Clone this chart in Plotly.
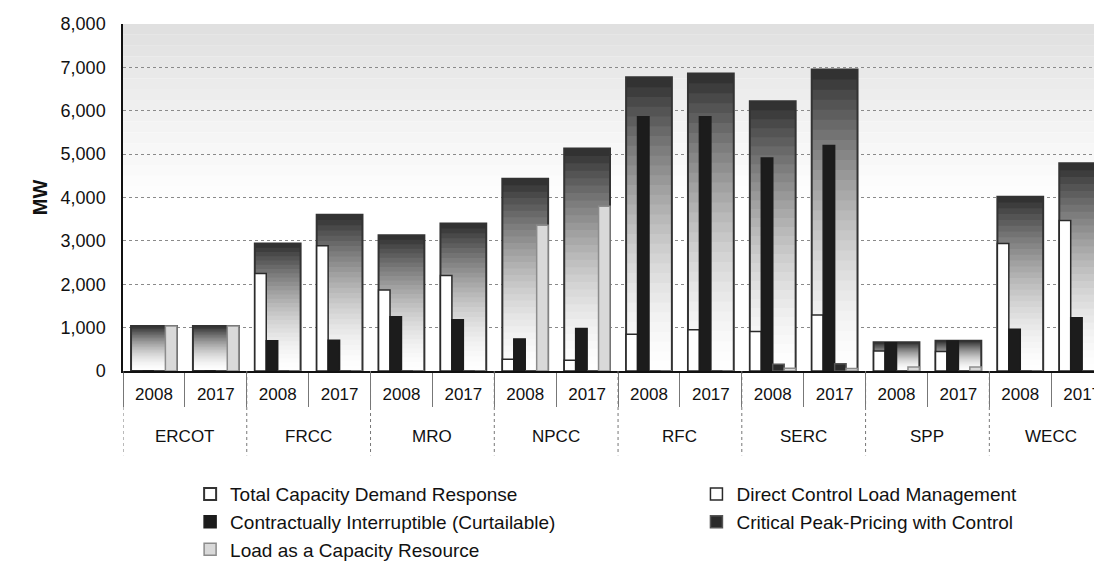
import plotly.graph_objects as go

regions = ["ERCOT", "FRCC", "MRO", "NPCC", "RFC", "SERC", "SPP", "WECC"]
years = ["2008", "2017"]

total_dr = [1040, 1040, 2940, 3600, 3130, 3400, 4430, 5130,
            6770, 6860, 6220, 6950, 660, 700, 4020, 4790]
direct_control = [0, 0, 2250, 2890, 1870, 2200, 270, 250,
                  850, 950, 910, 1290, 460, 450, 2940, 3470]
interruptible = [0, 0, 700, 710, 1250, 1180, 740, 980,
                 5860, 5860, 4910, 5200, 650, 690, 960, 1230]
critical_peak = [0, 0, 0, 0, 0, 0, 0, 0,
                 0, 0, 155, 165, 0, 0, 0, 0]
load_capacity = [1040, 1040, 0, 0, 0, 0, 3360, 3800,
                 0, 0, 65, 55, 90, 90, 0, 0]

series_names = ["Total Capacity Demand Response", "Direct Control Load Management",
                "Contractually Interruptible (Curtailable)", "Critical Peak-Pricing with Control",
                "Load as a Capacity Resource"]

year_labels = [y for _ in regions for y in years]
pos = list(range(len(year_labels)))
ny = len(years)

GROUP_W = 0.74
SUB_W = GROUP_W / 4
FONT = "Liberation Sans, Arial, sans-serif"

fig = go.Figure()

# plot-area background: grey at the top fading to white by the middle
NB = 16
for k in range(NB):
    y0 = 4000 + k * 4000 / NB
    y1 = y0 + 4000 / NB
    g = int(round(254 - 30 * ((k + 1) / NB) ** 1.2))
    fig.add_shape(type="rect", xref="paper", yref="y", x0=0, x1=1, y0=y0, y1=y1,
                  fillcolor=f"rgb({g},{g},{g})", line_width=0, layer="below")

# total bars drawn as nested overlays -> vertical gradient inside each bar
N = 30
for k in range(N):
    f = 1 - k / N
    g = int(round(255 - 205 * f ** 1.7))
    fig.add_trace(go.Bar(x=pos, y=[t * f for t in total_dr], width=GROUP_W,
                         marker=dict(color=f"rgb({g},{g},{g})", line_width=0),
                         showlegend=False, hoverinfo="skip"))

fig.add_trace(go.Bar(x=pos, y=total_dr, width=GROUP_W, name=series_names[0], legend="legend",
                     marker=dict(color="rgba(255,255,255,0)", line=dict(color="#333333", width=2))))

comp = [
    (series_names[1], direct_control, "#ffffff", "#2a2a2a", "legend2"),
    (series_names[2], interruptible, "#1c1c1c", "#1c1c1c", "legend"),
    (series_names[3], critical_peak, "#2b2b2b", "#555555", "legend2"),
    (series_names[4], load_capacity, "#d9d9d9", "#8c8c8c", "legend"),
]
for k, (nm, vals, fc, lc, lg) in enumerate(comp):
    fig.add_trace(go.Bar(x=pos, y=vals, width=SUB_W, offset=-GROUP_W / 2 + k * SUB_W,
                         name=nm, legend=lg,
                         marker=dict(color=fc, line=dict(color=lc, width=1.5))))

# region labels and region separators below the axis
for i, r in enumerate(regions):
    fig.add_annotation(x=i * ny + (ny - 1) / 2, y=-0.19, xref="x", yref="paper",
                       text=r, showarrow=False, yanchor="middle",
                       font=dict(size=17, family=FONT, color="#111111"))
for i in range(len(regions) + 1):
    xb = i * ny - 0.5
    fig.add_shape(type="line", xref="x", yref="paper", x0=xb, x1=xb, y0=0, y1=-0.243,
                  line=dict(color="#777777", width=1, dash="dot"))

leg_common = dict(orientation="v", yanchor="top", xanchor="left", traceorder="normal",
                  font=dict(size=19, family=FONT, color="#111111"),
                  bgcolor="rgba(0,0,0,0)", itemclick=False)

fig.update_layout(
    width=1102, height=571,
    barmode="overlay",
    paper_bgcolor="white", plot_bgcolor="white",
    margin=dict(l=115, r=0, t=16, b=208, autoexpand=False),
    font=dict(family=FONT, color="#111111"),
    legend=dict(x=0.068, y=-0.30, **leg_common),
    legend2=dict(x=0.581, y=-0.30, **leg_common),
)

fig.update_yaxes(range=[0, 8000], dtick=1000, tickformat=",d",
                 showgrid=True, gridcolor="#8a8a8a", griddash="dot", gridwidth=1,
                 showline=True, linecolor="#111111", linewidth=1.5,
                 ticks="", ticklabelstandoff=12, tickfont=dict(size=18),
                 zeroline=False,
                 title=dict(text="<b>MW</b>", font=dict(size=20), standoff=8))

fig.update_xaxes(range=[-0.5, 15.45], tickmode="array", tickvals=pos, ticktext=year_labels,
                 showline=True, linecolor="#111111", linewidth=1.5,
                 ticks="", ticklabelstandoff=7, tickfont=dict(size=17),
                 minor=dict(tickmode="array", tickvals=[p - 0.5 for p in pos] + [len(pos) - 0.5],
                            ticks="outside", ticklen=34, tickcolor="#777777", tickwidth=1),
                 showgrid=False, zeroline=False)

fig.write_html("out.html")
